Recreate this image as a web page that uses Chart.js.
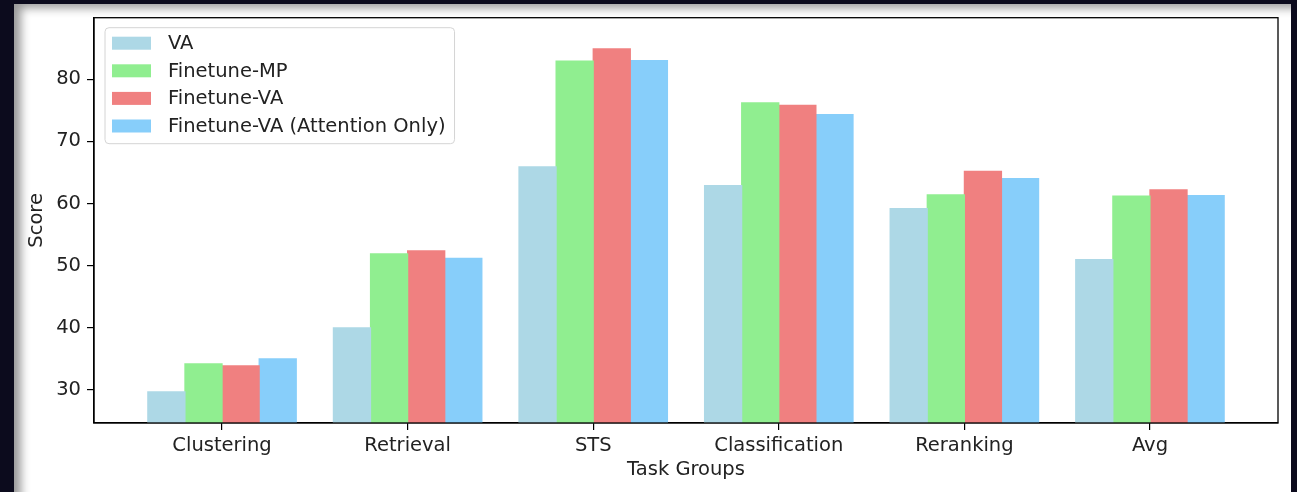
<!DOCTYPE html>
<html>
<head>
<meta charset="utf-8">
<script src="https://cdn.jsdelivr.net/npm/chart.js@4"></script>
<style>
  html, body { margin: 0; padding: 0; background: #0c0b1d; }
  body { width: 1297px; height: 492px; position: relative; overflow: hidden; }
  #panel {
    position: absolute; left: 14px; top: 4px; width: 1277px; height: 500px;
    background: #fff;
    box-shadow: inset 12px 9px 10px -5px rgba(0,0,0,0.4);
  }
  #chart { position: absolute; left: 0; top: 0; }
</style>
</head>
<body>
<div id="panel"></div>
<canvas id="chart" width="1297" height="492"></canvas>
<script>
const categories = ['Clustering', 'Retrieval', 'STS', 'Classification', 'Reranking', 'Avg'];
const seriesNames = ['VA', 'Finetune-MP', 'Finetune-VA', 'Finetune-VA (Attention Only)'];
const vaScores = [29.7, 40.0, 65.9, 62.9, 59.2, 51.0];
const mpScores = [34.2, 51.9, 82.9, 76.2, 61.4, 61.2];
const ftVaScores = [33.9, 52.4, 84.9, 75.8, 65.2, 62.2];
const attnScores = [35.0, 51.2, 83.0, 74.3, 64.0, 61.3];
const yTicks = [30, 40, 50, 60, 70, 80];

const colors = ['#add8e6', '#90ee90', '#f08080', '#87cefa'];
const FONT = '"DejaVu Sans", sans-serif';
const FS = 19.5;

const allSeries = [vaScores, mpScores, ftVaScores, attnScores];
const datasets = allSeries.map((vals, k) => ({
  label: seriesNames[k],
  data: vals.map((v, i) => ({ x: i, y: v })),
  backgroundColor: colors[k],
  borderWidth: 0,
  inflateAmount: 0.6,
  categoryPercentage: 0.8,
  barPercentage: 1.0
}));

const allVals = allSeries.flat();
const yMin = Math.min(...allVals) - 5;
const yMax = Math.max(...allVals) + 5;

// box around plot + legend in upper left, matplotlib-ish
const framePlugin = {
  id: 'frame',
  afterDraw(chart) {
    const { ctx, chartArea: a } = chart;
    ctx.save();
    ctx.strokeStyle = '#000';
    ctx.lineWidth = 1.3;
    ctx.strokeRect(a.left, a.top, a.right - a.left, a.bottom - a.top);

    ctx.font = FS + 'px ' + FONT;
    const textW = Math.max(...seriesNames.map(s => ctx.measureText(s).width));
    const bx = a.left + 11, by = a.top + 10;
    const sw = 39, sh = 13, gap = 17, rowH = 27.6;
    const bw = 7 + sw + gap + textW + 9;
    const bh = 15.5 + rowH * (seriesNames.length - 1) + 17.7;

    ctx.beginPath();
    ctx.roundRect(bx, by, bw, bh, 4);
    ctx.fillStyle = 'rgba(255,255,255,0.8)';
    ctx.fill();
    ctx.strokeStyle = '#d4d4d4';
    ctx.lineWidth = 1;
    ctx.stroke();

    ctx.textBaseline = 'middle';
    ctx.textAlign = 'left';
    seriesNames.forEach((name, k) => {
      const cy = by + 15.5 + k * rowH;
      ctx.fillStyle = colors[k];
      ctx.fillRect(bx + 7, cy - sh / 2, sw, sh);
      ctx.fillStyle = '#222';
      ctx.fillText(name, bx + 7 + sw + gap, cy + 1);
    });
    ctx.restore();
  }
};

new Chart(document.getElementById('chart').getContext('2d'), {
  type: 'bar',
  data: { datasets },
  options: {
    responsive: false,
    animation: false,
    layout: { padding: { left: 0, top: 17, right: 19, bottom: 0 } },
    plugins: {
      legend: { display: false },
      tooltip: { enabled: false }
    },
    scales: {
      x: {
        type: 'linear',
        min: -0.69,
        max: 5.69,
        offset: false,
        afterBuildTicks: (scale) => { scale.ticks = categories.map((c, i) => ({ value: i })); },
        afterFit: (scale) => { scale.height = 69; },
        grid: { display: true, offset: false, drawOnChartArea: false, drawTicks: true, tickLength: 7, color: '#000', lineWidth: 1.2 },
        border: { display: true, color: '#000', width: 1.3 },
        ticks: {
          autoSkip: false,
          maxRotation: 0,
          minRotation: 0,
          padding: 4,
          color: '#222',
          font: { family: FONT, size: FS },
          callback: (v) => categories[v]
        },
        title: {
          display: true,
          text: 'Task Groups',
          color: '#222',
          font: { family: FONT, size: FS },
          padding: { top: 0, bottom: 10 }
        }
      },
      y: {
        min: yMin,
        max: yMax,
        afterBuildTicks: (scale) => { scale.ticks = yTicks.map(v => ({ value: v })); },
        afterFit: (scale) => { scale.width = 94; },
        grid: { display: true, drawOnChartArea: false, drawTicks: true, tickLength: 7, color: '#000', lineWidth: 1.2 },
        border: { display: true, color: '#000', width: 1.3 },
        ticks: {
          padding: 6,
          color: '#222',
          font: { family: FONT, size: FS }
        },
        title: {
          display: true,
          text: 'Score',
          color: '#222',
          font: { family: FONT, size: FS },
          padding: { top: 25, bottom: 0 }
        }
      }
    }
  },
  plugins: [framePlugin]
});
</script>
</body>
</html>
